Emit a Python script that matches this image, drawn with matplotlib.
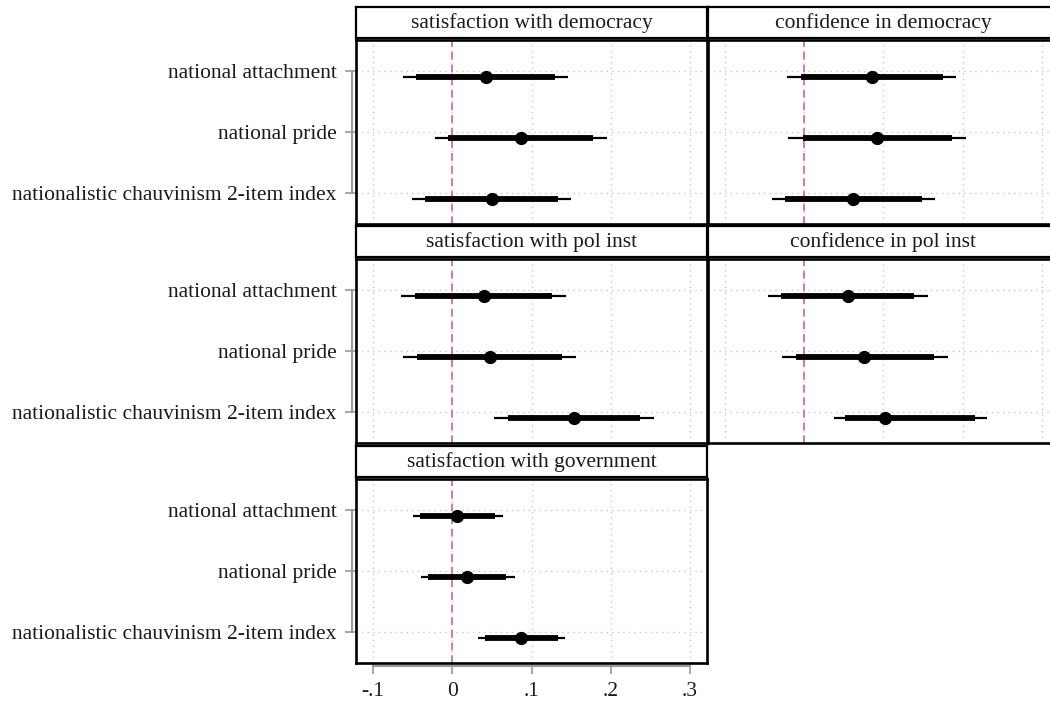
import matplotlib
matplotlib.use("Agg")
import matplotlib.pyplot as plt
import matplotlib.transforms as mtransforms

# Data
rows = ["national attachment", "national pride", "nationalistic chauvinism 2-item index"]
titles = ["satisfaction with democracy", "confidence in democracy",
          "satisfaction with pol inst", "confidence in pol inst",
          "satisfaction with government"]

est = [[0.042, 0.087, 0.050],
       [0.085, 0.092, 0.062],
       [0.040, 0.047, 0.154],
       [0.055, 0.076, 0.102],
       [0.006, 0.019, 0.087]]
lo95 = [[-0.062, -0.022, -0.051],
        [-0.022, -0.020, -0.041],
        [-0.065, -0.062, 0.053],
        [-0.046, -0.028, 0.037],
        [-0.050, -0.040, 0.033]]
hi95 = [[0.146, 0.195, 0.150],
        [0.192, 0.204, 0.165],
        [0.144, 0.156, 0.254],
        [0.156, 0.181, 0.231],
        [0.064, 0.079, 0.142]]
lo90 = [[-0.046, -0.005, -0.034],
        [-0.004, -0.002, -0.024],
        [-0.047, -0.045, 0.070],
        [-0.029, -0.011, 0.052],
        [-0.041, -0.030, 0.041]]
hi90 = [[0.130, 0.178, 0.133],
        [0.175, 0.186, 0.149],
        [0.126, 0.138, 0.237],
        [0.139, 0.164, 0.215],
        [0.054, 0.068, 0.133]]

xticks = [-0.1, 0, 0.1, 0.2, 0.3]
xticklabels = ["-.1", "0", ".1", ".2", ".3"]

W, H = 1050, 707
plt.rcParams['font.family'] = ['Liberation Serif', 'DejaVu Serif']
fig = plt.figure(figsize=(W / 100, H / 100), dpi=100)


def box(l, t, w, h):
    return [l / W, 1 - (t + h) / H, w / W, h / H]


col_left = [356, 708]
row_top = [7, 226, 446]
FS = 15.5
grey = '#9a9a9a'

for k, title in enumerate(titles):
    r, c = divmod(k, 2)
    l = col_left[c]
    t = row_top[r]

    # title strip
    tax = fig.add_axes(box(l, t, 351, 31))
    tax.set_xticks([])
    tax.set_yticks([])
    for s in tax.spines.values():
        s.set_linewidth(1.6)
        s.set_color('black')
    tax.text(0.5, 0.47, title, ha='center', va='center', fontsize=FS,
             color='#1a1a1a', transform=tax.transAxes)

    ax = fig.add_axes(box(l, t + 33, 351, 184))
    ax.set_xlim(-0.1215, 0.3215)
    ax.set_ylim(3.5, 0.5)
    for s in ax.spines.values():
        s.set_linewidth(1.9)
        s.set_color('black')

    ax.set_xticks(xticks)
    ax.set_yticks([1, 2, 3])
    ax.grid(True, color='#c8c8c8', linestyle=(0, (1, 3)), linewidth=1)
    ax.set_axisbelow(True)

    ax.axvline(0, color='#d27aaa', linestyle=(0, (4, 2.5)), linewidth=1.4, zorder=2)

    ypos = [i + 1.1 for i in range(3)]
    ax.hlines(ypos, lo95[k], hi95[k], color='black', linewidth=1.6, zorder=3)
    ax.hlines(ypos, lo90[k], hi90[k], color='black', linewidth=4.2, zorder=3)
    ax.plot(est[k], ypos, 'o', color='black', markersize=8.5, zorder=4)

    if c == 0:
        ax.set_yticklabels(rows, fontsize=FS, color='#1a1a1a')
        ax.tick_params(axis='y', length=8, color=grey, width=1.2, pad=6)
        trans = mtransforms.blended_transform_factory(ax.transAxes, ax.transData)
        ax.plot([-0.012, -0.012], [1, 3], color=grey, linewidth=1.5,
                transform=trans, clip_on=False)
    else:
        ax.tick_params(axis='y', length=0, labelleft=False)

    if k == 4:
        ax.set_xticklabels(xticklabels, fontsize=FS, color='#1a1a1a')
        ax.tick_params(axis='x', length=8, color=grey, width=1.2, pad=6)
        trans = mtransforms.blended_transform_factory(ax.transData, ax.transAxes)
        ax.plot([-0.1, 0.3], [-0.014, -0.014], color=grey, linewidth=1.5,
                transform=trans, clip_on=False)
    else:
        ax.tick_params(axis='x', length=0, labelbottom=False)

fig.savefig("out.png", dpi=100)
